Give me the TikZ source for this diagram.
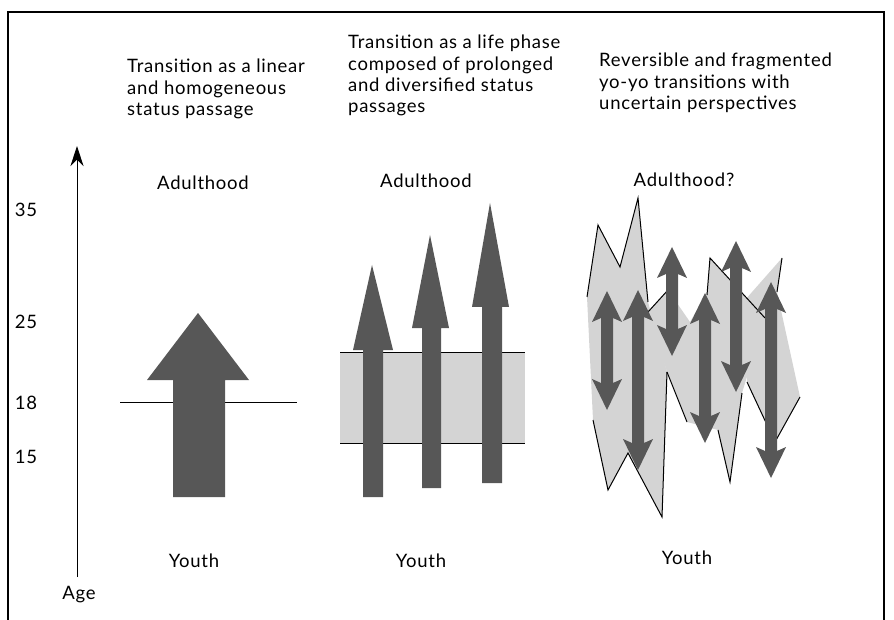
\documentclass[tikz,border=0pt]{standalone}
\usepackage{fontspec}
\setmainfont{Lato}[LetterSpace=4]
\usetikzlibrary{arrows.meta}
\definecolor{darkgr}{HTML}{575757}
\definecolor{lightgr}{HTML}{D4D4D4}
\newcommand{\dblarr}[3]{%
  \fill[darkfill] (#1,#2) -- ({#1+15},{#2+31}) -- ({#1+6},{#2+27}) -- ({#1+6},{#3-27})
    -- ({#1+15},{#3-31}) -- (#1,#3) -- ({#1-15},{#3-31}) -- ({#1-6},{#3-27})
    -- ({#1-6},{#2+27}) -- ({#1-15},{#2+31}) -- cycle;}
\begin{document}
\begin{tikzpicture}[x=1pt,y=-1pt,
  frame/.style={line width=2pt},
  hdr/.style={anchor=north west, align=left, inner sep=0pt, font=\fontsize{18.5}{21.3}\selectfont},
  lbl/.style={inner sep=0pt, font=\fontsize{18.5}{21.3}\selectfont},
  darkfill/.style={fill=darkgr},
  lightfill/.style={fill=lightgr},
  edgeline/.style={line width=1pt, line join=miter},
  bandline/.style={line width=1pt}]
\useasboundingbox (0,0) rectangle (894,620);
% frame
\draw[frame] (8,620) -- (8,12) -- (884,12) -- (884,620);
% headers
\node[hdr] (h1) at (127,59) {Transition as a linear\\and homogeneous\\status passage};
\node[hdr] (h2) at (348,35) {Transition as a life phase\\composed of prolonged\\and diversified status\\passages};
\node[hdr] (h3) at (599,53) {Reversible and fragmented\\yo-yo transitions with\\uncertain perspectives};
% axis
\coordinate (axb) at (77,577);
\coordinate (axt) at (77,146);
\draw[line width=0.9pt, -{Stealth[length=20pt,width=13pt]}] (axb) -- (axt);
\node[lbl] (n35) at (26,210) {35};
\node[lbl] (n25) at (26,322) {25};
\node[lbl] (n18) at (26,403) {18};
\node[lbl] (n15) at (26,457) {15};
\node[lbl] (age) at (79,595) {Age};
% labels
\node[lbl] (ad1) at (203,183) {Adulthood};
\node[lbl] (ad2) at (426,181) {Adulthood};
\node[lbl] (ad3) at (684,180) {Adulthood?};
\node[lbl] (y1) at (194,561) {Youth};
\node[lbl] (y2) at (421,561) {Youth};
\node[lbl] (y3) at (687,558) {Youth};
% column 1
\draw[bandline] (120,402) -- (297,402);
\fill[darkfill] (173,497) -- (173,380) -- (147,380) -- (198,313) -- (249,380) -- (225,380) -- (225,497) -- cycle;
% column 2
\fill[lightfill] (340,352) rectangle (525,443);
\draw[bandline] (340,352) -- (525,352);
\draw[bandline] (340,443) -- (525,443);
\fill[darkfill] (363,497) -- (363,350) -- (353,350) -- (372,265) -- (393,350) -- (383,350) -- (383,497) -- cycle;
\fill[darkfill] (422,488) -- (422,328) -- (412,328) -- (430,235) -- (449,328) -- (441,328) -- (441,488) -- cycle;
\fill[darkfill] (482,483) -- (482,307) -- (472,307) -- (490,203) -- (509,307) -- (502,307) -- (502,483) -- cycle;
% column 3 light jagged shapes
\fill[lightfill] (587,297) -- (598,225) -- (620,267) -- (638,198) -- (648,302) -- (667,372) -- (662,517)
  -- (628,453) -- (608,490) -- (593,420) -- cycle;
\fill[lightfill] (648,312) -- (668,290) -- (690,322) -- (707,292) -- (710,258) -- (765,318) -- (742,393)
  -- (730,482) -- (718,430) -- (687,422) -- (667,372) -- cycle;
\fill[lightfill] (745,300) -- (782,258) -- (777,292) -- (800,397) -- (775,442) -- (747,382) -- cycle;
% outlines
\draw[edgeline] (587,297) -- (598,225) -- (620,267) -- (638,198) -- (648,302);
\draw[edgeline] (593,420) -- (608,490) -- (628,453) -- (662,517) -- (667,372);
\draw[edgeline] (648,312) -- (668,290);
\draw[edgeline] (707,295) -- (710,258) -- (765,318);
\draw[edgeline] (667,372) -- (687,422);
\draw[edgeline] (718,430) -- (730,482) -- (742,393);
\draw[edgeline] (782,258) -- (777,292);
\draw[edgeline] (747,382) -- (775,442) -- (800,397);
% double arrows
\dblarr{607}{291}{410}
\dblarr{638}{290}{470}
\dblarr{672}{247}{356}
\dblarr{705}{293}{443}
\dblarr{736}{241}{392}
\dblarr{771}{282}{478}
\end{tikzpicture}
\end{document}
